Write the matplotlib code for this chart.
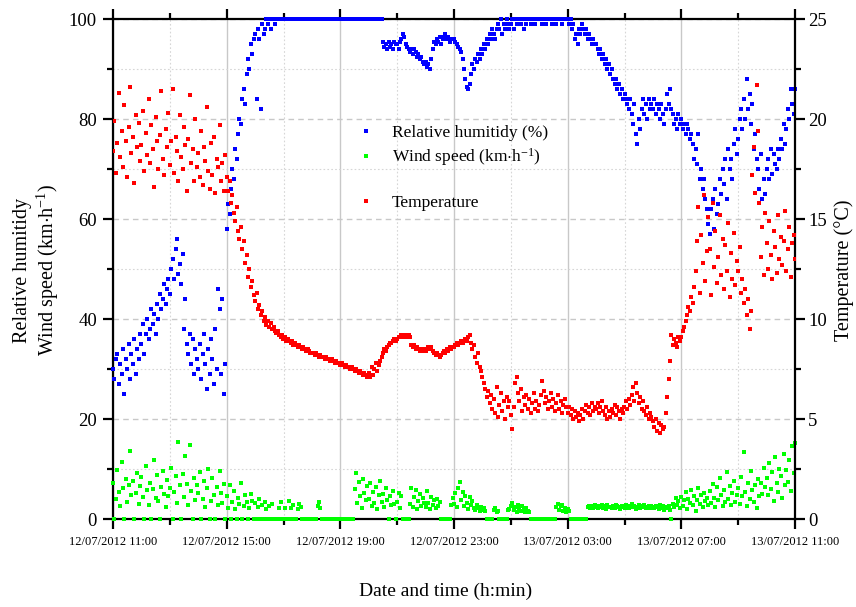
import numpy as np
import matplotlib
matplotlib.use('Agg')
import matplotlib.pyplot as plt
from matplotlib.lines import Line2D
from matplotlib.ticker import MultipleLocator

plt.rcParams['font.family'] = ['Liberation Serif', 'DejaVu Serif']
plt.rcParams['mathtext.fontset'] = 'custom'
plt.rcParams['mathtext.rm'] = 'Liberation Serif'
plt.rcParams['mathtext.it'] = 'Liberation Serif:italic'

# ---------------- data: readings every 3 min, one row per hour after 12/07/2012 11:00
tick_hours = [0, 4, 8, 12, 16, 20, 24]
tick_labels = ['12/07/2012 11:00', '12/07/2012 15:00', '12/07/2012 19:00',
               '12/07/2012 23:00', '13/07/2012 03:00', '13/07/2012 07:00',
               '13/07/2012 11:00']

humidity_rows = [
    [30, 28, 32, 33, 27, 31, 29, 34, 25, 32, 30, 35, 28, 33, 31, 36, 29, 34, 32, 37],
    [35, 39, 33, 37, 40, 36, 38, 42, 39, 41, 37, 43, 40, 45, 42, 44, 47, 43, 46, 48],
    [45, 50, 52, 48, 54, 56, 49, 51, 47, 53, 38, 44, 35, 33, 37, 31, 36, 29, 34, 32],
    [30, 35, 28, 33, 37, 31, 26, 34, 29, 36, 32, 27, 38, 30, 46, 42, 29, 44, 25, 31],
    [58, 63, 61, 66, 70, 68, 74, 72, 77, 80, 79, 84, 86, 83, 89, 92, 90, 95, 93, 96],
    [97, 84, 98, 96, 82, 99, 97, 98, 100, 99, 100, 98, 100, 100, 99, 100, 100, 100, 100, 100],
    [100, 100, 100, 100, 100, 100, 100, 100, 100, 100, 100, 100, 100, 100, 100, 100, 100, 100, 100, 100],
    [100, 100, 100, 100, 100, 100, 100, 100, 100, 100, 100, 100, 100, 100, 100, 100, 100, 100, 100, 100],
    [100, 100, 100, 100, 100, 100, 100, 100, 100, 100, 100, 100, 100, 100, 100, 100, 100, 100, 100, 100],
    [100, 100, 100, 100, 100, 100, 100, 100, 100, 100, 95.5, 94.5, 95, 94, 95.5, 94.5, 95, 94, 95.5, 95],
    [95, 94, 95.5, 96, 97, 96.5, 95, 94.5, 94, 93.5, 94, 93, 94, 93.5, 92.5, 93, 92, 92.5, 91.5, 91],
    [91.5, 90.5, 91, 90, 92, 94, 95.5, 95, 96, 95.5, 96.5, 95, 96, 96.5, 97, 96, 96.5, 95.5, 96, 96],
    [96, 95.5, 95, 94.5, 94, 93.5, 92, 90, 88, 86.5, 86, 87, 89, 91, 90, 92, 91.5, 93, 92, 94],
    [93, 95, 94, 96, 95, 97, 96, 98, 97, 96, 98, 99, 98, 100, 97, 99, 98, 100, 99, 98],
    [99, 100, 98, 100, 99, 100, 100, 99, 100, 98, 100, 99, 100, 100, 99, 100, 100, 99, 100, 100],
    [100, 100, 99, 100, 100, 99, 100, 100, 100, 99, 100, 100, 99, 100, 100, 100, 99, 100, 100, 100],
    [100, 99, 100, 98, 99, 96, 97, 95, 98, 97, 99, 98, 97, 98, 96, 97, 96, 95, 96, 95],
    [95, 94, 93, 94, 92, 93, 91, 92, 90, 91, 89, 90, 88, 87, 88, 86, 87, 85, 86, 84],
    [85, 84, 83, 82, 84, 81, 79, 83, 77, 75, 80, 78, 82, 84, 81, 83, 80, 84, 82, 83],
    [82, 84, 81, 83, 82, 80, 83, 81, 79, 82, 85, 83, 86, 82, 81, 79, 80, 78, 81, 79],
    [80, 78, 79, 77, 79, 78, 76, 77, 75, 72, 74, 71, 77, 68, 70, 66, 68, 64, 62, 59],
    [57, 62, 64, 58, 66, 61, 63, 68, 65, 70, 67, 72, 64, 74, 70, 72, 68, 75, 78, 73],
    [76, 80, 82, 78, 84, 80, 88, 82, 85, 79, 83, 74, 77, 72, 70, 66, 73, 64, 68, 65],
    [70, 72, 68, 74, 69, 73, 71, 70, 74, 72, 76, 74, 79, 75, 78, 82, 80, 86, 83, 81],
    [86],
]

wind_rows = [
    [7.2, 0, 4.1, 9.8, 5.5, 2.6, 11.4, 6.3, 0, 8.1, 3.4, 6.9, 13.6, 4.8, 7.7, 0, 5.2, 9.3, 3.1, 6.6],
    [8.4, 4.5, 0, 10.7, 5.9, 2.8, 7.3, 0, 6.1, 11.9, 4.2, 8.8, 3.6, 0, 6.4, 9.6, 5.1, 2.4, 7.9, 4.7],
    [6.2, 10.3, 0, 5.4, 8.6, 3.2, 15.4, 6.8, 0, 9.1, 4.4, 12.6, 7.1, 2.9, 14.8, 5.6, 0, 8.3, 3.8, 6.9],
    [5.3, 9.4, 0, 4.1, 7.6, 2.5, 6.2, 10.1, 0, 3.7, 8.2, 4.9, 0, 6.5, 2.8, 9.6, 5.2, 3.3, 7.1, 0],
    [4.6, 2.3, 6.8, 0, 3.4, 5.7, 2.1, 0, 4.3, 3.1, 7.2, 0, 2.6, 4.8, 3.5, 0, 2.2, 5.1, 3.7, 0],
    [3.2, 0, 2.4, 4.1, 0, 2.8, 0, 3.5, 2.1, 0, 2.6, 0, 3.1, 0, 0, 0, 0, 2.3, 3.4, 0],
    [0, 2.2, 0, 0, 3.6, 2.3, 0, 2.8, 0, 0, 2.1, 3.0, 2.4, 0, 0, 0, 0, 0, 0, 0],
    [0, 0, 0, 0, 2.7, 3.4, 2.2, 0, 0, 0, 0, 0, 0, 0, 0, 0, 0, 0, 0, 0],
    [0, 0, 0, 0, 0, 0, 0, 0, 0, 0, 6.1, 9.3, 3.2, 7.4, 4.6, 2.3, 8.1, 5.2, 3.8, 6.7],
    [4.1, 7.2, 2.6, 5.5, 3.3, 6.4, 2.1, 4.8, 7.6, 3.5, 5.1, 2.4, 6.2, 3.9, 0, 4.6, 2.8, 5.7, 3.1, 0],
    [3.4, 5.2, 2.2, 4.7, 0, 0, 0, 0, 0, 3.1, 6.3, 2.5, 4.4, 5.8, 2.1, 3.6, 5.0, 2.7, 4.2, 3.3],
    [2.4, 5.6, 3.2, 2.1, 4.5, 2.8, 3.9, 2.2, 4.1, 2.6, 3.4, 0, 0, 0, 0, 0, 0, 0, 2.9, 4.2],
    [3.1, 5.2, 2.4, 6.3, 7.4, 3.8, 5.5, 2.6, 4.7, 3.2, 2.1, 4.4, 2.8, 3.6, 2.2, 1.8, 2.9, 2.3, 1.6, 2.4],
    [1.9, 2.2, 1.6, 0, 0, 0, 0, 0, 1.8, 2.3, 1.5, 1.7, 0, 0, 0, 0, 0, 0, 1.9, 2.1],
    [2.6, 3.2, 1.8, 2.4, 1.5, 2.9, 2.1, 1.6, 2.7, 2.0, 1.4, 2.3, 1.7, 1.5, 0, 0, 0, 0, 0, 0],
    [0, 0, 0, 0, 0, 0, 0, 0, 0, 0, 0, 0, 2.4, 3.1, 1.8, 2.6, 2.9, 1.6, 2.2, 1.5],
    [2.0, 1.7, 0, 0, 0, 0, 0, 0, 0, 0, 0, 0, 0, 0, 2.4, 2.7, 2.2, 2.6, 2.3, 2.8],
    [2.5, 2.2, 2.7, 2.4, 2.9, 2.3, 2.6, 2.1, 2.8, 2.4, 2.5, 2.2, 2.7, 2.3, 2.9, 2.6, 2.4, 2.1, 2.7, 2.5],
    [2.3, 2.8, 2.5, 2.2, 2.6, 3.0, 2.4, 2.7, 2.1, 2.5, 2.8, 2.3, 2.6, 2.4, 2.9, 2.2, 2.5, 2.7, 2.3, 2.6],
    [2.4, 2.2, 2.7, 2.5, 2.1, 2.8, 2.3, 2.6, 1.9, 2.4, 2.2, 2.7, 1.8, 0, 3.1, 2.4, 4.2, 2.9, 3.6, 2.2],
    [4.5, 2.6, 3.8, 5.4, 2.1, 4.1, 3.3, 5.9, 2.8, 4.6, 1.7, 3.9, 6.2, 3.1, 4.8, 2.4, 5.3, 3.6, 4.2, 2.9],
    [5.6, 3.2, 7.1, 4.3, 2.5, 6.4, 3.8, 8.2, 4.9, 2.7, 5.8, 3.5, 9.4, 4.1, 6.7, 2.9, 5.2, 7.6, 3.4, 4.8],
    [6.2, 3.1, 8.4, 4.7, 13.4, 5.5, 2.6, 7.3, 4.1, 9.6, 5.8, 3.4, 6.9, 2.2, 8.1, 4.6, 7.2, 5.1, 10.3, 6.4],
    [8.3, 4.8, 11.2, 6.1, 9.5, 3.6, 12.4, 7.2, 5.4, 10.1, 8.6, 4.2, 13.1, 6.8, 9.9, 7.5, 11.8, 5.7, 14.6, 9.2],
    [15.3],
]

temperature_rows = [
    [18.4, 19.9, 17.3, 18.8, 21.3, 18.1, 19.4, 17.6, 20.7, 18.9, 17.1, 19.6, 21.6, 18.3, 19.1, 16.8, 20.2, 18.6, 19.8, 17.9],
    [18.7, 20.4, 17.4, 19.3, 18.2, 21.0, 17.8, 19.7, 18.5, 16.6, 20.1, 18.9, 17.5, 19.2, 21.4, 18.0, 17.2, 19.5, 18.6, 20.3],
    [17.7, 18.9, 21.5, 17.3, 19.1, 18.4, 16.9, 20.2, 18.1, 17.5, 19.6, 18.7, 16.4, 19.0, 21.2, 17.8, 18.5, 16.9, 20.0, 17.6],
    [18.3, 17.1, 19.4, 16.7, 18.6, 17.9, 20.6, 17.4, 16.5, 18.8, 17.2, 19.1, 16.3, 18.0, 17.6, 19.7, 16.9, 17.8, 16.4, 18.2],
    [17.1, 16.4, 16.9, 15.8, 16.2, 15.3, 14.9, 15.6, 14.4, 14.0, 14.6, 13.5, 13.9, 12.8, 13.2, 12.1, 12.5, 11.6, 11.9, 11.2],
    [10.9, 11.3, 10.5, 10.7, 10.2, 10.4, 9.9, 10.1, 9.7, 9.9, 9.6, 9.8, 9.5, 9.6, 9.4, 9.3, 9.4, 9.2, 9.1, 9.2],
    [9.0, 9.1, 8.9, 9.0, 8.9, 8.8, 8.9, 8.7, 8.8, 8.7, 8.6, 8.7, 8.6, 8.5, 8.6, 8.5, 8.4, 8.5, 8.4, 8.3],
    [8.3, 8.3, 8.2, 8.3, 8.2, 8.1, 8.2, 8.1, 8.1, 8.0, 8.1, 8.0, 8.0, 7.9, 8.0, 7.9, 7.8, 7.9, 7.8, 7.8],
    [7.7, 7.8, 7.7, 7.6, 7.7, 7.6, 7.6, 7.5, 7.6, 7.5, 7.4, 7.5, 7.4, 7.3, 7.4, 7.3, 7.2, 7.3, 7.2, 7.1],
    [7.3, 7.1, 7.6, 7.2, 7.5, 7.8, 7.4, 7.7, 7.9, 8.1, 8.3, 8.5, 8.4, 8.6, 8.7, 8.8, 8.8, 8.9, 9.0, 8.9],
    [9.0, 9.1, 9.1, 9.2, 9.1, 9.2, 9.2, 9.1, 9.2, 9.1, 8.7, 8.6, 8.7, 8.5, 8.6, 8.5, 8.4, 8.5, 8.4, 8.5],
    [8.4, 8.5, 8.6, 8.5, 8.6, 8.4, 8.3, 8.2, 8.3, 8.2, 8.1, 8.2, 8.3, 8.4, 8.3, 8.5, 8.4, 8.6, 8.5, 8.6],
    [8.6, 8.7, 8.8, 8.7, 8.8, 8.9, 8.8, 8.9, 9.0, 8.9, 9.1, 9.2, 8.8, 8.5, 8.7, 8.1, 7.8, 8.3, 7.6, 7.4],
    [7.1, 6.8, 6.5, 6.1, 6.4, 5.8, 6.2, 5.5, 6.0, 5.3, 6.6, 5.1, 5.7, 6.3, 5.4, 5.9, 5.0, 6.1, 5.6, 5.9],
    [5.2, 4.5, 5.6, 6.8, 7.1, 6.3, 5.9, 6.5, 5.4, 6.1, 5.7, 6.2, 5.5, 6.0, 5.3, 5.8, 6.3, 5.5, 5.9, 5.4],
    [5.7, 6.2, 6.9, 6.4, 5.8, 6.1, 5.5, 5.9, 6.3, 5.6, 6.0, 5.4, 5.8, 6.2, 5.5, 5.9, 5.3, 5.7, 6.0, 5.6],
    [5.3, 5.6, 5.2, 5.5, 5.0, 5.4, 5.1, 5.3, 4.9, 5.2, 5.5, 5.0, 5.4, 5.7, 5.3, 5.6, 5.2, 5.8, 5.4, 5.6],
    [5.5, 5.8, 5.3, 5.6, 5.9, 5.4, 5.2, 5.6, 5.0, 5.4, 5.1, 5.5, 5.3, 5.7, 5.2, 5.6, 5.4, 5.0, 5.5, 5.3],
    [5.6, 5.9, 5.5, 6.0, 5.7, 6.2, 6.6, 5.9, 6.8, 6.3, 5.8, 6.1, 5.5, 5.9, 5.4, 5.2, 5.6, 5.0, 5.3, 5.1],
    [4.9, 4.6, 5.0, 4.4, 4.8, 4.3, 4.7, 4.5, 4.6, 5.3, 6.1, 7.0, 7.9, 9.2, 8.7, 9.0, 8.8, 8.6, 9.1, 8.9],
    [9.1, 9.4, 9.6, 9.9, 10.2, 10.6, 10.4, 11.1, 10.8, 11.6, 12.4, 13.9, 15.6, 11.3, 14.2, 12.8, 16.2, 11.9, 13.4, 15.1],
    [13.5, 11.2, 15.8, 12.6, 14.4, 11.8, 13.1, 15.2, 12.2, 14.0, 11.5, 13.7, 12.4, 14.8, 11.1, 13.3, 12.0, 14.3, 11.7, 12.9],
    [12.4, 13.6, 11.3, 12.0, 10.8, 11.5, 10.2, 11.0, 9.5, 10.4, 17.2, 18.6, 16.3, 21.7, 19.4, 15.8, 13.1, 14.6, 12.2, 15.3],
    [13.8, 12.5, 14.9, 13.2, 12.0, 14.4, 13.6, 12.3, 15.2, 13.0, 14.1, 12.7, 13.9, 15.4, 12.4, 13.5, 14.6, 12.1, 13.8, 14.2],
    [13.0],
]


def flatten(rows):
    """Time (h after 11:00) and value of each 3-min reading."""
    t = [hour + k / 20 for hour, row in enumerate(rows) for k in range(len(row))]
    v = [x for row in rows for x in row]
    return np.array(t), np.array(v)


t_rh, humidity = flatten(humidity_rows)
t_ws, wind_speed = flatten(wind_rows)
t_t, temperature = flatten(temperature_rows)

BLUE = '#0000ff'
GREEN = '#00ff00'
RED = '#ff0000'
MS = 12  # marker area (pt^2)

fig = plt.figure(figsize=(8.56, 6.07), dpi=100)
ax = fig.add_axes([113 / 856, 1 - 519 / 607, 682 / 856, 500 / 607])
ax2 = ax.twinx()

ax.set_axisbelow(True)
ax.grid(which='major', axis='x', color='#c8c8c8', lw=1.0, ls='-')
ax.grid(which='major', axis='y', color='#c8c8c8', lw=1.0, ls=(0, (4, 3)))
ax.grid(which='minor', color='#d6d6d6', lw=0.8, ls=(0, (1.5, 2)))

ax.scatter(t_rh, humidity, marker='s', s=MS, color=BLUE, linewidths=0,
           zorder=3, clip_on=False)
ax.scatter(t_ws, wind_speed, marker='s', s=MS, color=GREEN, linewidths=0,
           zorder=3, clip_on=False)
ax2.scatter(t_t, temperature, marker='s', s=MS, color=RED, linewidths=0,
            zorder=3)

ax.set_xlim(0, 24)
ax.set_ylim(0, 100)
ax2.set_ylim(0, 25)

ax.set_xticks(tick_hours)
ax.set_xticklabels(tick_labels)
ax.xaxis.set_minor_locator(MultipleLocator(2))
ax.yaxis.set_major_locator(MultipleLocator(20))
ax.yaxis.set_minor_locator(MultipleLocator(10))
ax2.yaxis.set_major_locator(MultipleLocator(5))
ax2.yaxis.set_minor_locator(MultipleLocator(2.5))

for s in ['left', 'bottom', 'top']:
    ax.spines[s].set_linewidth(1.6)
ax.spines['right'].set_visible(False)
for s in ['left', 'bottom', 'top']:
    ax2.spines[s].set_visible(False)
ax2.spines['right'].set_linewidth(1.6)

ax.tick_params(axis='x', which='both', direction='out', top=True, bottom=True,
               width=1.6, labelsize=9, pad=5)
ax.tick_params(axis='x', which='major', length=7.5)
ax.tick_params(axis='x', which='minor', length=4.5)
ax.tick_params(axis='y', which='both', direction='out', left=True, right=False,
               width=1.6, labelsize=13.5, pad=4)
ax.tick_params(axis='y', which='major', length=7.5)
ax.tick_params(axis='y', which='minor', length=4)
ax2.tick_params(axis='y', which='both', direction='out', width=1.6,
                labelsize=13.5, pad=2)
ax2.tick_params(axis='y', which='major', length=7.5)
ax2.tick_params(axis='y', which='minor', length=4)

fig.text(446 / 856, 1 - 591 / 607, 'Date and time (h:min)', fontsize=14,
         ha='center', va='center')
fig.text(37 / 856, 1 - 270 / 607,
         'Relative humitidy\nWind speed (km$\\cdot$h$^{-1}$)',
         fontsize=14.5, rotation=90, ha='center', va='center',
         multialignment='center', linespacing=1.15)
fig.text(844 / 856, 1 - 270 / 607, 'Temperature (°C)', fontsize=14.5,
         rotation=90, ha='center', va='center')

handles = [
    Line2D([], [], marker='s', ls='none', color=BLUE, markersize=3.2,
           markeredgewidth=0, label='Relative humitidy (%)'),
    Line2D([], [], marker='s', ls='none', color=GREEN, markersize=3.2,
           markeredgewidth=0, label='Wind speed (km$\\cdot$h$^{-1}$)'),
    Line2D([], [], ls='none', label='Relative humitidy (%)'),
    Line2D([], [], marker='s', ls='none', color=RED, markersize=3.2,
           markeredgewidth=0, label='Temperature'),
]
leg = ax2.legend(handles=handles, loc='upper left', bbox_to_anchor=(0.358, 0.788),
                 frameon=False, fontsize=12.5, borderpad=0, borderaxespad=0,
                 handlelength=1.0, handletextpad=1.0, labelspacing=0.3)
leg.get_texts()[2].set_alpha(0)

fig.savefig('out.png', dpi=100)
